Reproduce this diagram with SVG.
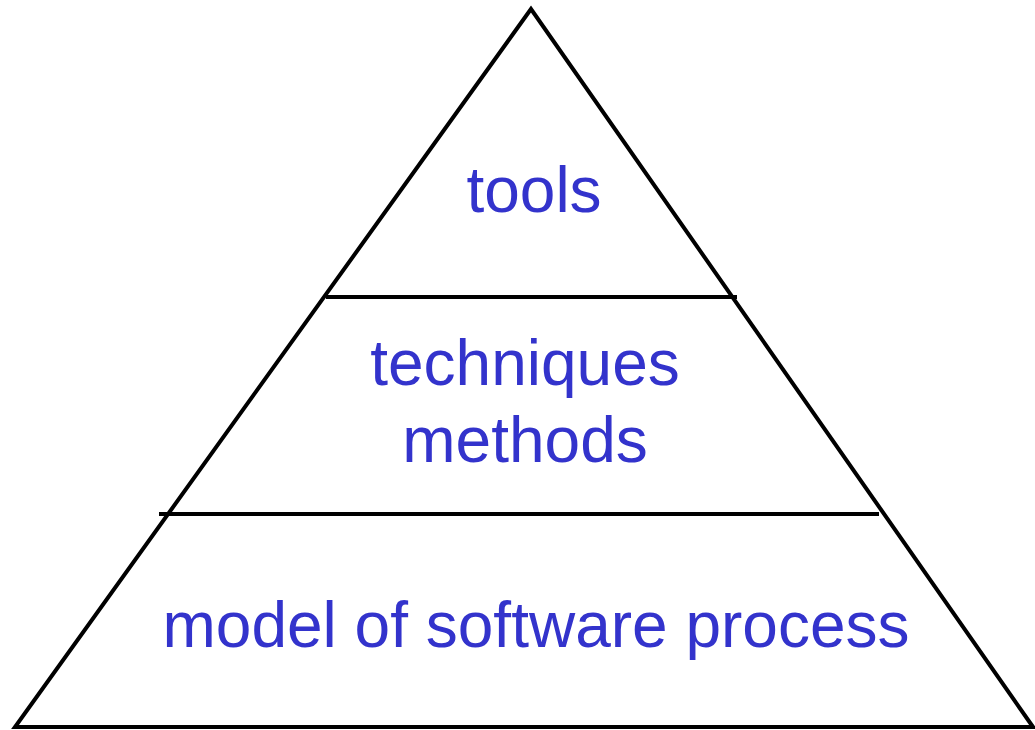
<svg xmlns="http://www.w3.org/2000/svg" width="1035" height="730" viewBox="0 0 1035 730">
<style>
.ln{stroke:#000;stroke-width:4;fill:none}
.t{font-family:"Liberation Sans",Arial,sans-serif;font-size:64px;fill:#3333CC;text-anchor:middle}
</style>
<rect width="1035" height="730" fill="#fff"/>
<g id="pyramid">
<polygon class="ln" points="531,9 15,727 1033,727" stroke-linejoin="miter"/>
</g>
<g id="connectors">
<line class="ln" x1="326" y1="297" x2="737" y2="297"/>
<line class="ln" x1="159" y1="514" x2="879" y2="514"/>
</g>
<g id="tools"><text class="t" x="534" y="212">tools</text></g>
<g id="techniques"><text class="t" x="525" y="385">techniques</text><text class="t" x="525" y="462">methods</text></g>
<g id="model"><text class="t" x="536" y="647">model of software process</text></g>
</svg>
